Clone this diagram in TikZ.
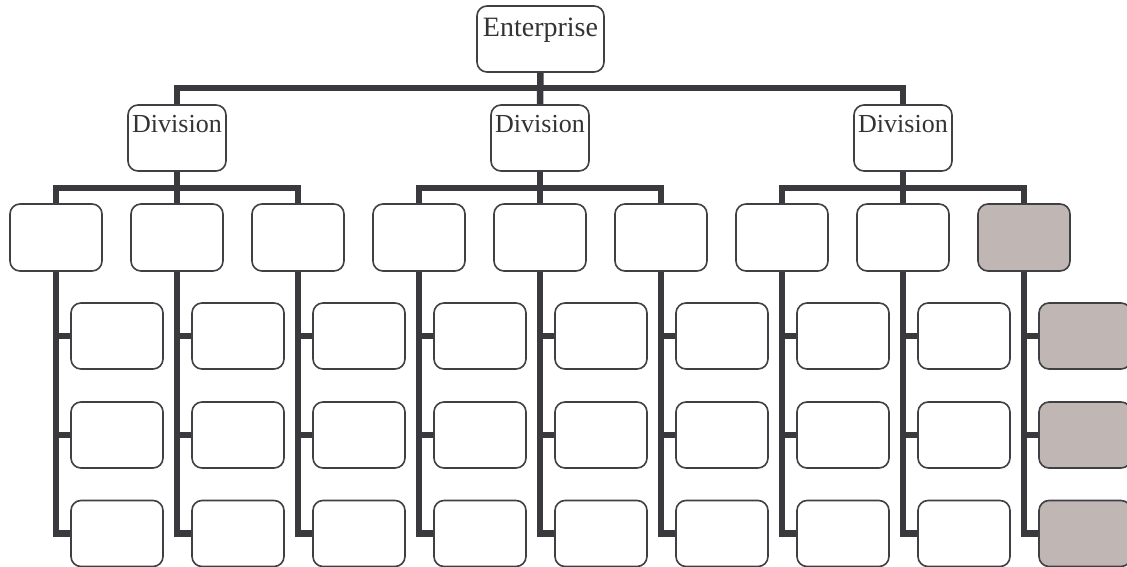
\documentclass[tikz,border=0pt]{standalone}
\usepackage{fontspec}
\setmainfont{Liberation Serif}
\definecolor{linec}{HTML}{3A393E}
\definecolor{bordc}{HTML}{3F3F44}
\definecolor{greyf}{HTML}{C0B7B4}
\definecolor{txtc}{HTML}{333333}
\begin{document}
\begin{tikzpicture}[x=1pt,y=-1pt,
  box/.style={draw=bordc, line width=1.6pt, rounded corners=10pt, fill=white,
    minimum width=92pt, minimum height=66pt, inner sep=0pt, outer sep=0pt},
  greybox/.style={box, fill=greyf},
  conn/.style={draw=linec, line width=6.5pt, line join=miter},
  lbl/.style={anchor=base, text=txtc, font=\fontsize{26}{30}\selectfont, inner sep=0pt}
]
\useasboundingbox (0,0) rectangle (1127,567);
\clip (0,0) rectangle (1127,567);
\begin{scope}
% level 0
\node[box, minimum width=127pt, label={[lbl, font=\fontsize{28}{32}\selectfont, yshift=-31pt]north:Enterprise}] (ent) at (540.5,39) {};
% level 1
\foreach \d/\x in {1/177,2/540,3/903}{
  \node[box, minimum width=98pt, label={[lbl, yshift=-28pt]north:Division}] (D\d) at (\x,138) {};
}
% level 2 and 3
\foreach \i in {0,...,8}{
  \pgfmathsetmacro{\cx}{56+121*\i}
  \ifnum\i=8
    \node[greybox, minimum height=67pt] (A\i) at (\cx,237.5) {};
    \foreach \j/\y in {1/336,2/435,3/533.5}{
      \node[greybox] (B\i-\j) at (\cx+61,\y) {};
    }
  \else
    \node[box, minimum height=67pt] (A\i) at (\cx,237.5) {};
    \foreach \j/\y in {1/336,2/435,3/533.5}{
      \node[box] (B\i-\j) at (\cx+61,\y) {};
    }
  \fi
}
\end{scope}
% connectors (drawn on background)
\pgfdeclarelayer{bg}
\pgfsetlayers{bg,main}
\begin{pgfonlayer}{bg}
\coordinate (ebar) at (540,88);
\draw[conn] (ent.south) -- (D2.north);
\draw[conn] (D1.north) |- (ebar) -| (D3.north);
\foreach \d/\a/\b/\c in {1/0/1/2,2/3/4/5,3/6/7/8}{
  \draw[conn] (D\d.south) -- (A\b.north);
  \draw[conn] (A\a.north) -- ++(0,-16) -| (A\c.north);
}
\foreach \i in {0,...,8}{
  \draw[conn] (A\i.south) |- (B\i-3.west);
  \draw[conn] (B\i-1.west) -- (B\i-1.west -| A\i.south);
  \draw[conn] (B\i-2.west) -- (B\i-2.west -| A\i.south);
}
\end{pgfonlayer}
\end{tikzpicture}
\end{document}
